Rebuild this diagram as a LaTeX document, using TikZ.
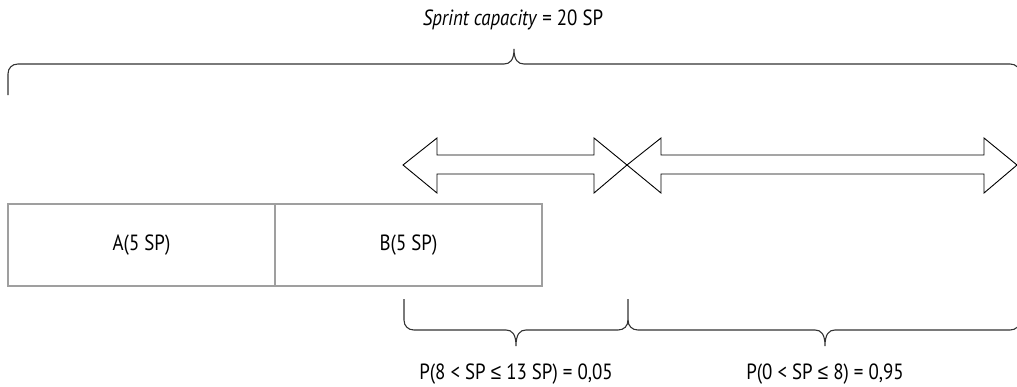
\documentclass[tikz,border=0pt]{standalone}
\usepackage{fontspec}
\setmainfont{PT Sans}[FakeStretch=0.86]
\newfontfamily\symf{Liberation Sans}[FakeStretch=0.86]
\newcommand{\myle}{{\symf ≤}}
\begin{document}
\begin{tikzpicture}[x=1pt,y=-1pt,
  box/.style={draw=gray!75, line width=1.4pt, minimum width=267pt, minimum height=82pt, inner sep=0pt, outer sep=0pt, font=\fontsize{22}{26}\selectfont},
  lbl/.style={inner sep=0pt, font=\fontsize{22}{26}\selectfont},
  bracepath/.style={draw=black!80, line width=1.1pt},
  dbl/.style={draw=black, line width=0.9pt, fill=white, line join=miter}]
\useasboundingbox (0,0) rectangle (1017,386);
% title
\node[lbl] (title) at (513,20) {\textit{Sprint capacity} = 20 SP};
% top brace
\draw[bracepath] (8,95) -- (8,74) .. controls (8,68) and (12,64) .. (18,64)
  -- (504,64) .. controls (510,64) and (514,60) .. (514,49)
  .. controls (514,60) and (518,64) .. (524,64)
  -- (1010,64) .. controls (1016,64) and (1020,68) .. (1020,74) -- (1020,95);
% double arrows
\draw[dbl] (403,165) -- (437,138) -- (437,155) -- (594,155) -- (594,138) -- (627,165)
  -- (594,193) -- (594,174) -- (437,174) -- (437,193) -- cycle;
\draw[dbl, fill=none] (627,165) -- (661,138) -- (661,155) -- (984,155) -- (984,138) -- (1017,165)
  -- (984,193) -- (984,174) -- (661,174) -- (661,193) -- cycle;
% boxes
\node[box, anchor=north west] (A) at (8,204) {A(5 SP)};
\node[box, anchor=west] (B) at (A.east) {B(5 SP)};
% bottom braces
\draw[bracepath] (404,299) -- (404,320) .. controls (404,326) and (408,330) .. (414,330)
  -- (506,330) .. controls (512,330) and (516,334) .. (516,346)
  .. controls (516,334) and (520,330) .. (526,330)
  -- (618,330) .. controls (624,330) and (628,326) .. (628,320) -- (628,299);
\draw[bracepath] (628,320) .. controls (628,326) and (632,330) .. (638,330)
  -- (815,330) .. controls (821,330) and (825,334) .. (825,346)
  .. controls (825,334) and (829,330) .. (835,330)
  -- (1010,330) .. controls (1016,330) and (1020,326) .. (1020,320) -- (1020,299);
\node[lbl] (p1) at (516,374) {P(8 < SP \myle{} 13 SP) = 0,05};
\node[lbl] (p2) at (825,374) {P(0 < SP \myle{} 8) = 0,95};
\end{tikzpicture}
\end{document}
